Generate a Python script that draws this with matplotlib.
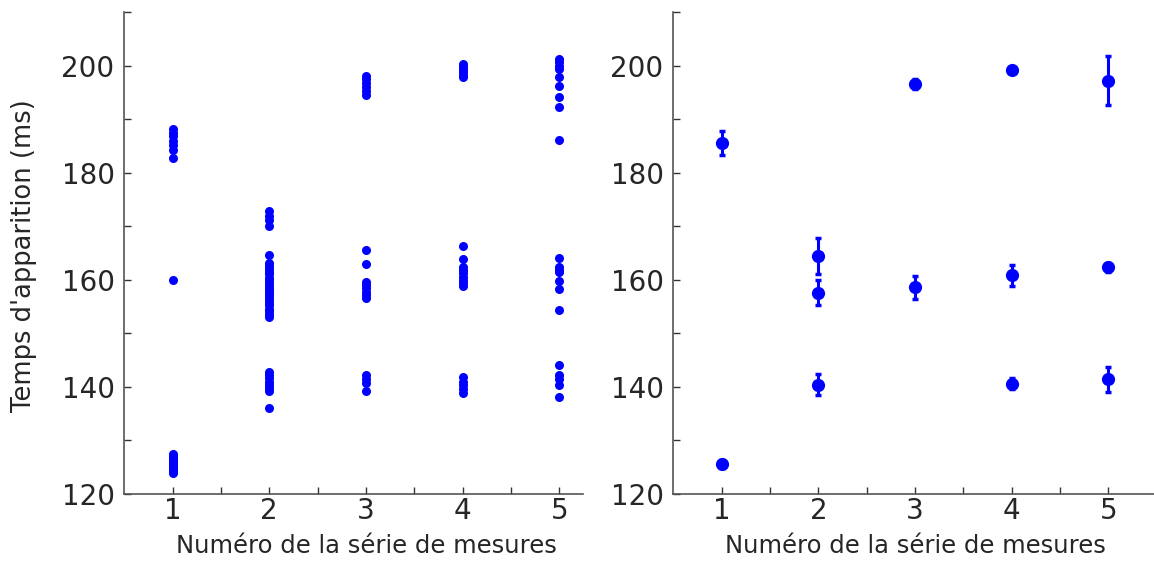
import numpy as np
import matplotlib.pyplot as plt
from matplotlib.ticker import MultipleLocator, FixedLocator

# mesures brutes (ms) pour chaque série
serie1 = [188.2, 187.4, 186.9, 185.9, 185.2, 184.3, 182.8, 160.0,
          127.5, 127.2, 126.9, 126.6, 126.3, 126.0, 125.7, 125.4, 125.1,
          124.8, 124.5, 124.2, 123.9]
serie2 = [172.8, 172.0, 171.2, 170.1, 164.6, 163.2, 162.6, 162.0, 161.5,
          161.0, 160.4, 159.9, 159.4, 158.8, 158.3, 157.8, 157.3, 156.8,
          156.2, 155.7, 155.2, 154.6, 154.1, 153.6, 153.1,
          142.8, 142.2, 141.6, 141.0, 140.4, 139.7, 139.2, 136.1]
serie3 = [198.1, 197.4, 196.7, 196.0, 195.3, 194.5, 165.6, 163.0,
          159.6, 159.0, 158.4, 157.8, 157.2, 156.6,
          142.2, 141.5, 140.8, 139.2]
serie4 = [200.3, 199.8, 199.3, 198.8, 198.3, 197.9, 166.4, 163.8,
          162.4, 161.8, 161.2, 160.6, 160.0, 159.4, 158.8,
          141.8, 141.0, 140.3, 139.6, 138.9]
serie5 = [201.2, 200.6, 200.0, 199.4, 197.8, 196.1, 194.2, 192.2, 186.1,
          164.0, 162.4, 161.8, 161.4, 159.8, 158.3, 154.3,
          144.0, 142.3, 141.5, 140.4, 138.1]
series = [serie1, serie2, serie3, serie4, serie5]

# moyennes et incertitudes par groupe
moy_x = [1, 1, 2, 2, 2, 3, 3, 4, 4, 4, 5, 5, 5]
moy_y = [185.5, 125.6, 164.4, 157.6, 140.4, 196.5, 158.6,
         199.2, 160.8, 140.6, 197.2, 162.3, 141.4]
moy_err = [2.2, 0.8, 3.4, 2.4, 2.0, 0.9, 2.1,
           0.6, 2.0, 1.0, 4.5, 0.8, 2.4]

texte = "#262626"
plt.rcParams['font.family'] = 'DejaVu Sans'

W, H = 1154, 561
fig = plt.figure(figsize=(W / 100, H / 100), dpi=100)
bas, haut = 494, 12
ax1 = fig.add_axes([124.3 / W, (H - bas) / H, 483.3 / W, (bas - haut) / H])
ax2 = fig.add_axes([673.3 / W, (H - bas) / H, 483.4 / W, (bas - haut) / H])

for i, s in enumerate(series):
    ax1.plot([i + 1] * len(s), s, 'o', color='blue', markersize=6.5, markeredgewidth=0)

ax2.errorbar(moy_x, moy_y, yerr=moy_err, fmt='none', ecolor='blue',
             elinewidth=2.2, capsize=2.5, capthick=2.5)
ax2.plot(moy_x, moy_y, 'o', color='blue', markersize=9.5, markeredgewidth=0)

for ax in (ax1, ax2):
    ax.set_xlim(0.5, 5.5)
    ax.set_ylim(120, 210)
    ax.xaxis.set_major_locator(MultipleLocator(1))
    ax.xaxis.set_minor_locator(FixedLocator([1.5, 2.5, 3.5, 4.5]))
    ax.yaxis.set_major_locator(MultipleLocator(20))
    ax.yaxis.set_minor_locator(MultipleLocator(20, offset=10))
    ax.spines['top'].set_visible(False)
    ax.spines['right'].set_visible(False)
    for sp in ('left', 'bottom'):
        ax.spines[sp].set_color('#555555')
        ax.spines[sp].set_linewidth(1.2)
    ax.tick_params(which='both', direction='in', length=5, width=1, colors='#333333',
                   labelsize=20, labelcolor=texte)
    ax.tick_params(axis='x', which='both', pad=2.5)
    ax.tick_params(axis='y', which='both', pad=7)
    ax.set_xlabel("Numéro de la série de mesures", fontsize=17.5, color=texte)
    ax.xaxis.set_label_coords(0.5, (bas - 534) / (bas - haut))

ax1.spines['bottom'].set_bounds(0.5, 5.25)

ax1.set_ylabel("Temps d'apparition (ms)", fontsize=18.5, color=texte)
ax1.yaxis.set_label_coords((37 - 124.3) / 483.3, 0.495)

plt.savefig("out.png", dpi=100)
